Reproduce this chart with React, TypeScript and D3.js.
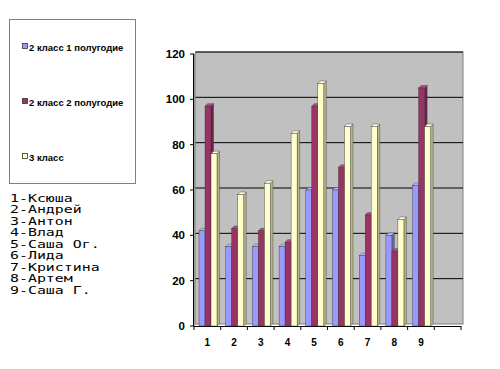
import React, { useEffect, useRef } from 'react';
import * as d3 from 'd3';

const categories = ['1', '2', '3', '4', '5', '6', '7', '8', '9', ''];
const seriesNames = ['2 класс 1 полугодие', '2 класс 2 полугодие', '3 класс'];
const sem1 = [42, 35, 35, 35, 60, 60, 31, 40, 62];
const sem2 = [97, 43, 42, 37, 97, 70, 49, 33, 105];
const grade3 = [76, 58, 63, 85, 107, 88, 88, 47, 88];
const yTicks = [0, 20, 40, 60, 80, 100, 120];
const pupils = ['1-Ксюша', '2-Андрей', '3-Антон', '4-Влад', '5-Саша Ог.', '6-Лида', '7-Кристина', '8-Артем', '9-Саша Г.'];

const fronts = ['#9999ff', '#993366', '#ffffcc'];
const sides = ['#6b6bb8', '#6a2347', '#b5b58c'];
const tops = ['#b8b8ff', '#b84d80', '#ffffe6'];

const App: React.FC = () => {
  const ref = useRef<SVGSVGElement>(null);

  useEffect(() => {
    if (!ref.current) return;
    const svg = d3.select(ref.current);
    svg.selectAll('*').remove();

    const left = 194, right = 461, top = 54, bottom = 326;
    const depth = 2.5;
    const y = d3.scaleLinear().domain([0, 120]).range([bottom, top]);
    const x0 = d3.scaleBand<string>().domain(categories.map((c, i) => c + '_' + i)).range([left, right]);
    const x1 = d3.scaleBand<number>().domain([0, 1, 2]).range([5, 23]);

    const g = svg.append('g');

    // back wall
    g.append('rect')
      .attr('x', left + 1.5).attr('y', top - 2)
      .attr('width', 463 - left - 1.5).attr('height', bottom - top)
      .attr('fill', '#c0c0c0').attr('stroke', '#808080').attr('stroke-width', 1);
    // left side wall
    g.append('polygon')
      .attr('points', `${left},${top} ${left + 2},${top - 2} ${left + 2},${bottom - 2} ${left},${bottom}`)
      .attr('fill', '#9a9a9a');

    // gridlines
    yTicks.filter(t => t > 0).forEach(t => {
      g.append('line')
        .attr('x1', left + 1.5).attr('x2', 463)
        .attr('y1', y(t) - 2).attr('y2', y(t) - 2)
        .attr('stroke', '#000').attr('stroke-width', 1);
    });

    // axis lines
    g.append('line').attr('x1', left - 0.5).attr('x2', left - 0.5).attr('y1', top).attr('y2', bottom)
      .attr('stroke', '#000').attr('stroke-width', 1);
    g.append('line').attr('x1', left - 0.5).attr('x2', right).attr('y1', bottom + 0.5).attr('y2', bottom + 0.5)
      .attr('stroke', '#000').attr('stroke-width', 1);

    yTicks.forEach(t => {
      g.append('line').attr('x1', left - 4).attr('x2', left).attr('y1', y(t)).attr('y2', y(t))
        .attr('stroke', '#000');
      g.append('text')
        .attr('x', 185).attr('y', y(t) + 4)
        .attr('text-anchor', 'end')
        .attr('font-family', 'Liberation Sans, Arial, sans-serif')
        .attr('font-weight', 'bold').attr('font-size', 11.5)
        .text(t);
    });

    const step = x0.step();
    d3.range(categories.length + 1).forEach(i => {
      const xx = left + i * step;
      g.append('line').attr('x1', xx).attr('x2', xx).attr('y1', bottom).attr('y2', bottom + 4)
        .attr('stroke', '#000');
    });
    categories.forEach((c, i) => {
      g.append('text')
        .attr('x', (x0(c + '_' + i) ?? 0) + step / 2).attr('y', 346)
        .attr('text-anchor', 'middle')
        .attr('font-family', 'Liberation Sans, Arial, sans-serif')
        .attr('font-weight', 'bold').attr('font-size', 10)
        .text(c);
    });

    // bars
    const series = [sem1, sem2, grade3];
    const w = x1.bandwidth();
    categories.slice(0, 9).forEach((c, i) => {
      const bx = x0(c + '_' + i) ?? 0;
      series.forEach((vals, s) => {
        const xl = bx + (x1(s) ?? 0);
        const yt = y(vals[i]);
        // side face
        g.append('polygon')
          .attr('points', `${xl + w},${yt} ${xl + w + depth},${yt - depth} ${xl + w + depth},${bottom - depth} ${xl + w},${bottom}`)
          .attr('fill', sides[s]).attr('stroke', '#333').attr('stroke-width', 0.4);
        // top face
        g.append('polygon')
          .attr('points', `${xl},${yt} ${xl + depth},${yt - depth} ${xl + w + depth},${yt - depth} ${xl + w},${yt}`)
          .attr('fill', tops[s]).attr('stroke', '#333').attr('stroke-width', 0.4);
        // front face
        g.append('rect')
          .attr('x', xl).attr('y', yt).attr('width', w).attr('height', bottom - yt)
          .attr('fill', fronts[s]).attr('stroke', '#333').attr('stroke-width', 0.4);
      });
    });

    // legend box
    const lg = svg.append('g');
    lg.append('rect').attr('x', 9.5).attr('y', 19.5).attr('width', 126).attr('height', 164)
      .attr('fill', '#fff').attr('stroke', '#808080');
    seriesNames.forEach((name, s) => {
      const ly = 47 + s * 55;
      lg.append('rect').attr('x', 22.5).attr('y', ly - 3.5).attr('width', 5).attr('height', 5)
        .attr('fill', fronts[s]).attr('stroke', '#333').attr('stroke-width', 0.8);
      lg.append('text').attr('x', 29).attr('y', ly + 3.5)
        .attr('font-family', 'Liberation Sans, Arial, sans-serif')
        .attr('font-weight', 'bold').attr('font-size', 9.5)
        .text(name);
    });

    // pupils list (wide monospace look)
    const sx = 1.42;
    const list = svg.append('g').attr('transform', `translate(10,0) scale(${sx},1)`);
    pupils.forEach((p, i) => {
      list.append('text').attr('x', 0).attr('y', 202 + i * 11.5)
        .attr('font-family', 'DejaVu Sans Mono, monospace')
        .attr('font-size', 10.5)
        .text(p);
    });
  }, []);

  return <svg ref={ref} width={500} height={369} style={{ position: 'absolute', left: 0, top: 0 }} />;
};

export default App;
